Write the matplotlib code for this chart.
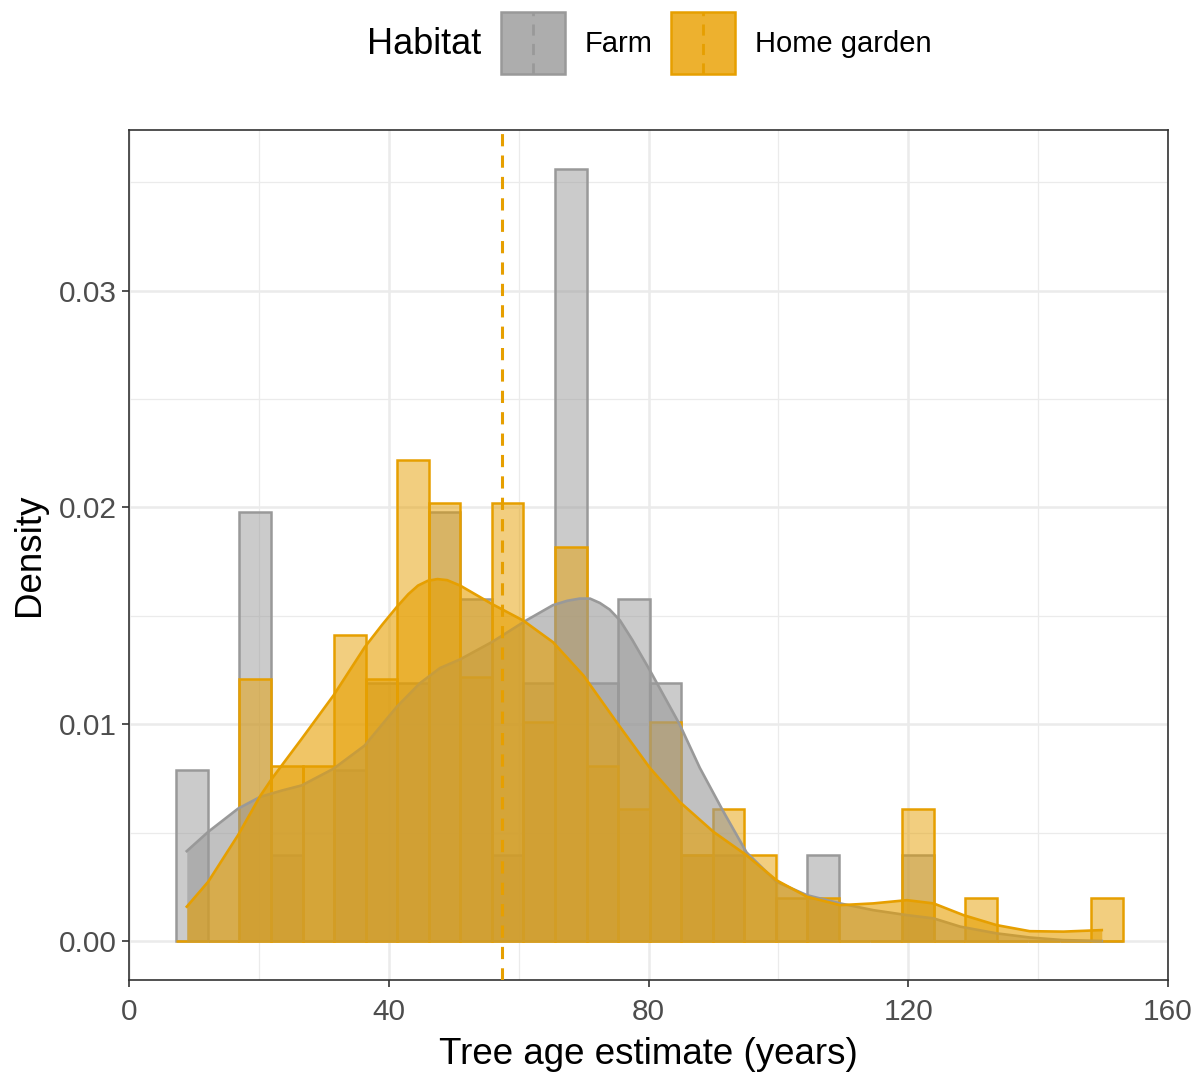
import numpy as np
import matplotlib
matplotlib.use("Agg")
import matplotlib.pyplot as plt
from matplotlib.patches import Rectangle
from matplotlib.lines import Line2D

plt.rcParams['font.family'] = ['Liberation Sans', 'DejaVu Sans']

# histogram bins: 30 bins, centres at multiples of the bin width
bin_width = 4.859
bin_index = np.arange(2, 32)

# bar heights (density), one per bin
farm_hist = [0.0079, 0, 0.0198, 0.0040, 0, 0.0079, 0.0119, 0.0119, 0.0198, 0.0158,
             0.0040, 0.0119, 0.0356, 0.0119, 0.0158, 0.0119, 0.0040, 0.0040, 0, 0,
             0.0040, 0, 0, 0.0040, 0, 0, 0, 0, 0, 0]
garden_hist = [0, 0, 0.0121, 0.0081, 0.0081, 0.0141, 0.0121, 0.0222, 0.0202, 0.0122,
               0.0202, 0.0101, 0.0182, 0.0081, 0.0061, 0.0101, 0.0040, 0.0061, 0.0040, 0.0020,
               0.0020, 0, 0, 0.0061, 0, 0.0020, 0, 0, 0, 0.0020]

# density curves
farm_x = [8.9, 12.2, 16.8, 20.2, 23.5, 26.6, 31.5, 36.3, 41.2, 44.8, 47.9, 51.0, 55.9,
          61.2, 65.3, 67.5, 69.4, 71.0, 72.5, 74.0, 75.6, 77.5, 80.2, 84.8, 87.9, 91.5,
          95.1, 99.7, 104.4, 109.5, 114.6, 119.8, 123.9, 128.0, 133.6, 138.7, 143.8, 149.8]
farm_y = [0.00416, 0.00505, 0.00612, 0.00666, 0.00695, 0.00719, 0.00796, 0.00903, 0.0108,
          0.0119, 0.0126, 0.0130, 0.0138, 0.0148, 0.0155, 0.0157, 0.0158, 0.0158, 0.0156,
          0.0153, 0.0148, 0.0139, 0.0125, 0.0100, 0.0080, 0.0060, 0.0041, 0.00275, 0.00213,
          0.00175, 0.00144, 0.00121, 0.00106, 0.00068, 0.00037, 0.00018, 0.00006, 0.00002]

garden_x = [8.9, 12.2, 16.8, 20.2, 22.0, 26.6, 31.5, 36.3, 39.0, 41.2, 43.0, 44.5, 46.0,
            47.5, 49.0, 51.0, 55.9, 60.7, 65.3, 70.0, 75.1, 80.2, 84.8, 90.0, 95.1, 99.7,
            104.4, 109.5, 114.6, 119.8, 123.9, 128.5, 133.6, 138.7, 143.9, 149.8]
garden_y = [0.0016, 0.00275, 0.0049, 0.0067, 0.0075, 0.00934, 0.01134, 0.01356, 0.0146,
            0.01540, 0.0160, 0.0164, 0.01662, 0.01670, 0.01665, 0.01640, 0.01555, 0.01479,
            0.01379, 0.01225, 0.0101, 0.0080, 0.00643, 0.00505, 0.00397, 0.00282, 0.00206,
            0.00167, 0.00175, 0.0019, 0.00175, 0.00121, 0.00075, 0.00047, 0.00045, 0.00052]

garden_mean = 57.4

grey = '#999999'
orange = '#E69F00'

W, H = 1201, 1075
fig = plt.figure(figsize=(W / 100, H / 100), dpi=100)
ax = fig.add_axes([129 / W, 1 - 980 / H, (1168 - 129) / W, (980 - 130) / H])

lefts = (bin_index - 0.5) * bin_width
ax.bar(lefts, farm_hist, width=bin_width, align='edge', color=grey, alpha=0.5,
       linewidth=0, zorder=2)
ax.bar(lefts, farm_hist, width=bin_width, align='edge', fill=False,
       edgecolor=grey, linewidth=1.8, zorder=2)
ax.bar(lefts, garden_hist, width=bin_width, align='edge', color=orange, alpha=0.5,
       linewidth=0, zorder=3)
ax.bar(lefts, garden_hist, width=bin_width, align='edge', fill=False,
       edgecolor=orange, linewidth=1.8, zorder=3)

ax.fill_between(farm_x, farm_y, color=grey, alpha=0.6, linewidth=0, zorder=4)
ax.plot(farm_x, farm_y, color=grey, linewidth=1.9, zorder=4)
ax.fill_between(garden_x, garden_y, color=orange, alpha=0.6, linewidth=0, zorder=5)
ax.plot(garden_x, garden_y, color=orange, linewidth=1.9, zorder=5)

ax.axvline(garden_mean, color=orange, linestyle=(0, (4, 3)), linewidth=2.2, zorder=6)

ax.set_xlim(0, 160)
ax.set_ylim(-0.00178, 0.0374)
ax.set_xticks([0, 40, 80, 120, 160])
ax.set_xticks([20, 60, 100, 140], minor=True)
ax.set_yticks([0, 0.01, 0.02, 0.03])
ax.set_yticklabels(['0.00', '0.01', '0.02', '0.03'])
ax.set_yticks([0.005, 0.015, 0.025, 0.035], minor=True)
ax.grid(which='major', color='#EBEBEB', linewidth=1.8, zorder=0)
ax.grid(which='minor', color='#EBEBEB', linewidth=0.9, zorder=0)
ax.set_axisbelow(True)
ax.tick_params(which='major', length=5, width=1.2, color='#333333',
               labelsize=21.5, labelcolor='#4D4D4D')
ax.tick_params(axis='x', which='major', pad=8)
ax.tick_params(axis='y', which='major', pad=4)
ax.tick_params(which='minor', length=0)
for s in ax.spines.values():
    s.set_color('#333333')
    s.set_linewidth(1.2)

ax.set_xlabel('Tree age estimate (years)', fontsize=26.5, color='black', labelpad=8)
ax.set_ylabel('Density', fontsize=26.5, color='black', labelpad=8)

# legend at the top, drawn by hand
fig.text(367 / W, 1 - 44 / H, 'Habitat', fontsize=26, va='center', ha='left')
keys = [(501, grey, '#ADADAD', 'Farm'), (671, orange, '#EDB12F', 'Home garden')]
for x0, edge, face, label in keys:
    fig.add_artist(Rectangle((x0 / W, 1 - 74 / H), 64 / W, 62 / H, transform=fig.transFigure,
                             facecolor=face, edgecolor=edge, linewidth=1.8))
    xm = (x0 + 32) / W
    fig.add_artist(Line2D([xm, xm], [1 - 74 / H, 1 - 12 / H], transform=fig.transFigure,
                          color=edge, linestyle=(0, (4, 3)), linewidth=2.0))
    fig.text((x0 + 84) / W, 1 - 44 / H, label, fontsize=21, va='center', ha='left')

fig.savefig('out.png', dpi=100)
